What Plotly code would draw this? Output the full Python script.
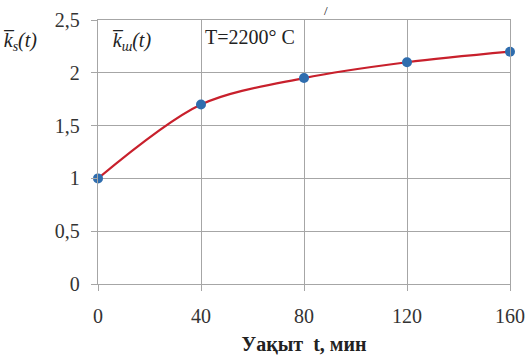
import plotly.graph_objects as go

t_min = [0, 40, 80, 120, 160]
k_vals = [1.0, 1.7, 1.95, 2.1, 2.2]
x_ticks = [0, 40, 80, 120, 160]
y_ticks = [0, 0.5, 1, 1.5, 2, 2.5]
y_tick_text = ["0", "0,5", "1", "1,5", "2", "2,5"]

SERIF = "Liberation Serif"
FS = 20

fig = go.Figure()
fig.add_trace(go.Scatter(
    x=t_min, y=k_vals, mode="lines",
    line=dict(color="#C8202C", width=2.2, shape="spline", smoothing=0.9),
    cliponaxis=False, showlegend=False, hoverinfo="skip"))
fig.add_trace(go.Scatter(
    x=t_min, y=k_vals, mode="markers",
    marker=dict(color="#2F6DAE", size=10),
    cliponaxis=False, showlegend=False))

axis_common = dict(
    showgrid=True, gridcolor="#A6A6A6", gridwidth=1.3,
    showline=True, linecolor="#A6A6A6", linewidth=1.3,
    ticks="outside", ticklen=6, tickcolor="#A6A6A6", tickwidth=1.3,
    zeroline=False, automargin=False,
    tickfont=dict(family=SERIF, size=FS, color="#333333"),
)

fig.update_layout(
    width=525, height=358,
    font=dict(family=SERIF, size=FS, color="#222222"),
    margin=dict(l=98, r=15, t=20, b=74, autoexpand=False),
    paper_bgcolor="white", plot_bgcolor="white",
    xaxis=dict(range=[0, 160], tickvals=x_ticks, ticktext=[str(v) for v in x_ticks],
               ticklabelstandoff=8,
               title=dict(text="<b>Уақыт  t, мин</b>", font=dict(family=SERIF, size=FS, color="#222222"), standoff=10),
               mirror=True, **axis_common),
    yaxis=dict(range=[0, 2.5], tickvals=y_ticks, ticktext=y_tick_text,
               ticklabelstandoff=7,
               mirror=True, **axis_common),
)

fig.add_annotation(xref="paper", yref="paper", x=-0.235, y=0.975, xanchor="left", yanchor="top",
                   text="<i>k̅<sub>s</sub>(t)</i>", showarrow=False,
                   font=dict(family=SERIF, size=FS, color="#222222"))
fig.add_annotation(xref="paper", yref="paper", x=0.03, y=0.975, xanchor="left", yanchor="top",
                   text="<i>k̅<sub>ш</sub>(t)</i>", showarrow=False,
                   font=dict(family=SERIF, size=FS, color="#222222"))
fig.add_annotation(xref="paper", yref="paper", x=0.255, y=0.985, xanchor="left", yanchor="top",
                   text="T=2200° C", showarrow=False,
                   font=dict(family=SERIF, size=FS, color="#222222"))
fig.add_annotation(xref="paper", yref="paper", x=0.553, y=1.07, xanchor="center", yanchor="top",
                   text="/", showarrow=False, borderpad=0,
                   font=dict(family=SERIF, size=13, color="#111111"))

fig.write_html("out.html")
